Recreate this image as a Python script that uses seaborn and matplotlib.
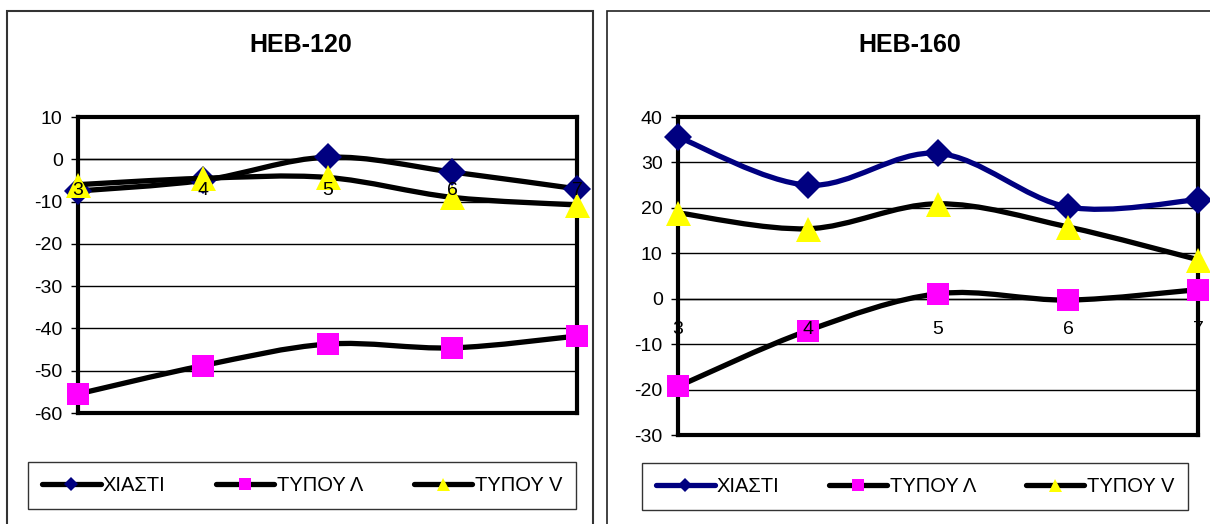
import numpy as np
import pandas as pd
import matplotlib
matplotlib.use("Agg")
import matplotlib.pyplot as plt
from matplotlib.path import Path
from matplotlib.patches import PathPatch, Rectangle
from matplotlib.lines import Line2D
import seaborn as sns

# ---- data -------------------------------------------------------------
spans = [3, 4, 5, 6, 7]
series_names = ["ΧΙΑΣΤΙ", "ΤΥΠΟΥ Λ", "ΤΥΠΟΥ V"]

heb120_xiasti = [-7.5, -5.0, 0.5, -3.0, -7.0]
heb120_typou_l = [-55.5, -48.8, -43.7, -44.6, -41.8]
heb120_typou_v = [-6.0, -4.5, -4.3, -9.0, -10.8]

heb160_xiasti = [35.6, 25.0, 32.0, 20.2, 21.8]
heb160_typou_l = [-19.3, -7.0, 1.1, -0.3, 2.0]
heb160_typou_v = [18.9, 15.4, 20.9, 15.8, 8.6]

y_ticks_120 = [-60, -50, -40, -30, -20, -10, 0, 10]
y_ticks_160 = [-30, -20, -10, 0, 10, 20, 30, 40]

# ---- styling ----------------------------------------------------------
NAVY = "#000080"
MAGENTA = "#FF00FF"
YELLOW = "#FFFF00"
markers = {"ΧΙΑΣΤΙ": ("D", NAVY, 14), "ΤΥΠΟΥ Λ": ("s", MAGENTA, 16), "ΤΥΠΟΥ V": ("^", YELLOW, 18)}

sns.set_theme(style="white")
plt.rcParams["font.family"] = ["Liberation Sans", "DejaVu Sans"]
plt.rcParams["axes.unicode_minus"] = False
plt.rcParams["text.color"] = "black"
plt.rcParams["xtick.color"] = "black"
plt.rcParams["ytick.color"] = "black"

W, H = 1210, 524
fig = plt.figure(figsize=(W / 100, H / 100), dpi=100)


def fbox(x0, y0, x1, y1):
    """Pixel box (top-left origin) -> figure fraction rect."""
    return [x0 / W, 1 - y1 / H, (x1 - x0) / W, (y1 - y0) / H]


def smooth_path(xs, ys):
    """Cardinal-spline (Bezier) path through the points, like smoothed chart lines."""
    pts = np.column_stack([xs, ys]).astype(float)
    n = len(pts)
    verts = [pts[0]]
    codes = [Path.MOVETO]
    for i in range(n - 1):
        p0 = pts[i - 1] if i > 0 else pts[i]
        p1 = pts[i]
        p2 = pts[i + 1]
        p3 = pts[i + 2] if i + 2 < n else pts[i + 1]
        c1 = p1 + (p2 - p0) / 6.0
        c2 = p2 - (p3 - p1) / 6.0
        verts += [c1, c2, p2]
        codes += [Path.CURVE4] * 3
    return Path(verts, codes)


def draw_panel(ax, values, yticks, line_colors):
    df = pd.DataFrame({"span": np.tile(spans, 3),
                       "value": np.concatenate(values),
                       "series": np.repeat(series_names, len(spans))})
    ax.set_xlim(spans[0], spans[-1])
    ax.set_ylim(yticks[0], yticks[-1])
    ax.set_yticks(yticks)
    ax.set_xticks([])
    ax.yaxis.grid(True, color="black", linewidth=1.0)
    ax.set_axisbelow(True)
    for s in ax.spines.values():
        s.set_visible(True)
        s.set_color("black")
        s.set_linewidth(3.0)
    ax.tick_params(axis="y", which="both", left=True, length=5, width=1,
                   color="black", labelsize=14, labelcolor="black", pad=6)
    ax.axhline(0, color="black", linewidth=1.0, zorder=1)

    for k, name in enumerate(series_names):
        sub = df[df["series"] == name]
        patch = PathPatch(smooth_path(sub["span"].to_numpy(), sub["value"].to_numpy()),
                          facecolor="none", edgecolor=line_colors[k],
                          linewidth=3.8, capstyle="round", joinstyle="round",
                          zorder=3 + 2 * k, clip_on=False)
        ax.add_patch(patch)
        m, c, ms = markers[name]
        sns.lineplot(data=sub, x="span", y="value", ax=ax, linestyle="none",
                     marker=m, markersize=ms, color=c, markeredgewidth=0,
                     zorder=4 + 2 * k, clip_on=False, legend=False)
    ax.set_xlabel("")
    ax.set_ylabel("")

    # category labels sit under the zero line
    for x in spans:
        ax.annotate(str(x), xy=(x, 0), xytext=(0, -16), textcoords="offset points",
                    ha="center", va="top", fontsize=14, color="black", zorder=10,
                    annotation_clip=False)


# panel frames
fig.add_artist(Rectangle((7 / W, 1 - 540 / H), (593 - 7) / W, (540 - 11) / H,
                         transform=fig.transFigure, fill=False,
                         edgecolor="#333333", linewidth=1.5))
fig.add_artist(Rectangle((607 / W, 1 - 540 / H), (1230 - 607) / W, (540 - 11) / H,
                         transform=fig.transFigure, fill=False,
                         edgecolor="#222222", linewidth=1.2))

ax1 = fig.add_axes(fbox(78, 117, 577, 413))
draw_panel(ax1, [heb120_xiasti, heb120_typou_l, heb120_typou_v],
           y_ticks_120, ["black", "black", "black"])
ax2 = fig.add_axes(fbox(678, 117, 1198, 435))
draw_panel(ax2, [heb160_xiasti, heb160_typou_l, heb160_typou_v],
           y_ticks_160, [NAVY, "black", "black"])

fig.text(301 / W, 1 - 45 / H, "HEB-120", ha="center", va="center",
         fontsize=18, fontweight="bold", color="black")
fig.text(910 / W, 1 - 45 / H, "HEB-160", ha="center", va="center",
         fontsize=18, fontweight="bold", color="black")


def add_legend(box, line_colors):
    handles = []
    for k, name in enumerate(series_names):
        m, c, ms = markers[name]
        handles.append(Line2D([], [], color=line_colors[k], linewidth=3.8,
                              marker=m, markersize=ms * 0.52, markerfacecolor=c,
                              markeredgewidth=0, solid_capstyle="round"))
    x0, y0, x1, y1 = box
    leg = fig.legend(handles, series_names, loc="center",
                     bbox_to_anchor=fbox(x0, y0, x1, y1), mode="expand",
                     ncol=3, frameon=True, fancybox=False, fontsize=14.5,
                     handlelength=2.9, handletextpad=0.12, borderaxespad=0,
                     columnspacing=2.0, borderpad=0.7)
    for t in leg.get_texts():
        t.set_color("black")
    fr = leg.get_frame()
    fr.set_edgecolor("black")
    fr.set_linewidth(1.0)
    fr.set_boxstyle("square", pad=0)
    return leg


add_legend((28, 458, 576, 513), ["black", "black", "black"])
add_legend((642, 455, 1188, 518), [NAVY, "black", "black"])

fig.savefig("out.png", dpi=100, facecolor="white")
